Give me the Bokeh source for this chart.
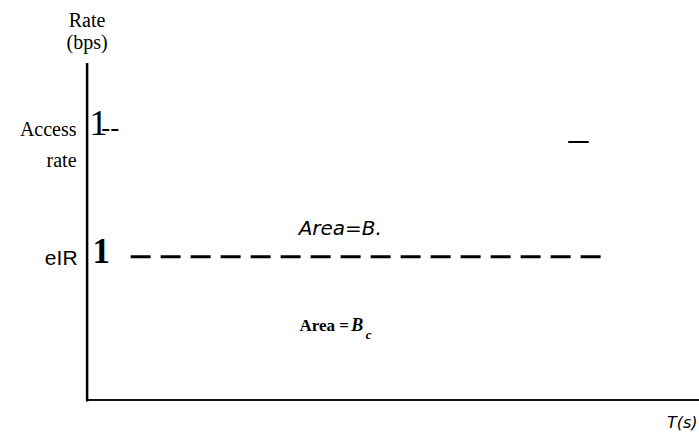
from bokeh.plotting import figure
from bokeh.models import Range1d
from bokeh.core.properties import value
from bokeh.embed import file_html
from bokeh.resources import INLINE

# ---- data (time in arbitrary units, rate normalised to CIR = 1) ----
time_axis = [0.0, 10.2]          # extent of the T(s) axis
rate_axis = [0.0, 2.35]          # extent of the Rate axis
cir_rate = 1.0                   # committed information rate level
access_rate = 1.8                # access rate level
cir_span = [0.72, 8.50]          # dashed CIR line, start/end time
access_mark = [7.96, 8.30]       # short mark at access rate

y_title = ["Rate", "(bps)"]
access_label = ["Access", "rate"]
cir_label = "eIR"
area_be_label = "Area=B."
area_bc_label = "Area = "
x_title = "T(s)"

SERIF = value("Liberation Serif")
SANS = value("DejaVu Sans")
PX_PER_Y = 143.45


def ty(y, fs):
    # compensate for the SVG text baseline offset (placement only)
    return y + 0.4 * fs / PX_PER_Y


p = figure(width=699, height=432, x_range=Range1d(-1.4328, 10.132), y_range=Range1d(-0.2259, 2.7856),
           output_backend="svg", toolbar_location=None, min_border=0,
           x_axis_location=None, y_axis_location=None)
p.grid.visible = False
p.outline_line_color = None
p.background_fill_color = "white"
p.border_fill_color = "white"

# axes
p.line(x=[time_axis[0], time_axis[0]], y=[rate_axis[0] - 0.01, rate_axis[1]], line_color="black", line_width=2.5)
p.line(x=time_axis, y=[rate_axis[0], rate_axis[0]], line_color="#111111", line_width=2)

# CIR dashed line
p.line(x=cir_span, y=[cir_rate, cir_rate], line_color="black", line_width=3,
       line_dash="20 10", line_cap="butt")
# access-rate mark
p.line(x=access_mark, y=[access_rate, access_rate], line_color="black", line_width=2)

# y title
p.text(x=[time_axis[0]] * 2, y=[ty(2.597, 20), ty(2.444, 20)], text=y_title, text_align="center",
       text_baseline="alphabetic", text_font=SERIF, text_font_size="20px", text_color="black")

# access rate label
p.text(x=[-0.175, -0.175], y=[ty(access_rate + 0.034, 20), ty(access_rate - 0.185, 20)], text=access_label,
       text_align="right", text_baseline="alphabetic", text_font=SERIF,
       text_font_size="20px", text_color="black")
p.text(x=[0.04], y=[ty(access_rate + 0.031, 36)], text=["1"], text_align="left",
       text_baseline="alphabetic", text_font=SERIF, text_font_size="36px", text_color="black")
p.text(x=[0.235], y=[ty(access_rate + 0.031, 27)], text=["--"], text_align="left",
       text_baseline="alphabetic", text_font=SERIF, text_font_size="27px", text_color="black")

# CIR label
p.text(x=[-0.158], y=[ty(cir_rate - 0.062, 21)], text=[cir_label], text_align="right",
       text_baseline="alphabetic", text_font=value("Liberation Sans"), text_font_size="21px",
       text_color="black")
p.text(x=[0.09], y=[ty(cir_rate - 0.055, 35)], text=["1"], text_align="left",
       text_baseline="alphabetic", text_font=SERIF, text_font_size="35px",
       text_font_style="bold", text_color="black")

# area labels
p.text(x=[3.50], y=[ty(1.147, 20)], text=[area_be_label], text_align="left",
       text_baseline="alphabetic", text_font=SANS, text_font_size="20px",
       text_font_style="italic", text_color="black")
p.text(x=[3.514], y=[ty(0.471, 17)], text=[area_bc_label], text_align="left",
       text_baseline="alphabetic", text_font=SERIF, text_font_size="17px",
       text_font_style="bold", text_color="black")
p.text(x=[4.37], y=[ty(0.471, 18)], text=["B"], text_align="left",
       text_baseline="alphabetic", text_font=SERIF, text_font_size="18px",
       text_font_style="bold italic", text_color="black")
p.text(x=[4.61], y=[ty(0.42, 13)], text=["c"], text_align="left",
       text_baseline="alphabetic", text_font=SERIF, text_font_size="13px",
       text_font_style="bold italic", text_color="black")

# x title
p.text(x=[10.10], y=[ty(-0.20, 16)], text=[x_title], text_align="right",
       text_baseline="alphabetic", text_font=SANS, text_font_size="16px",
       text_font_style="italic", text_color="black")

open("out.html", "w").write(file_html(p, INLINE))
